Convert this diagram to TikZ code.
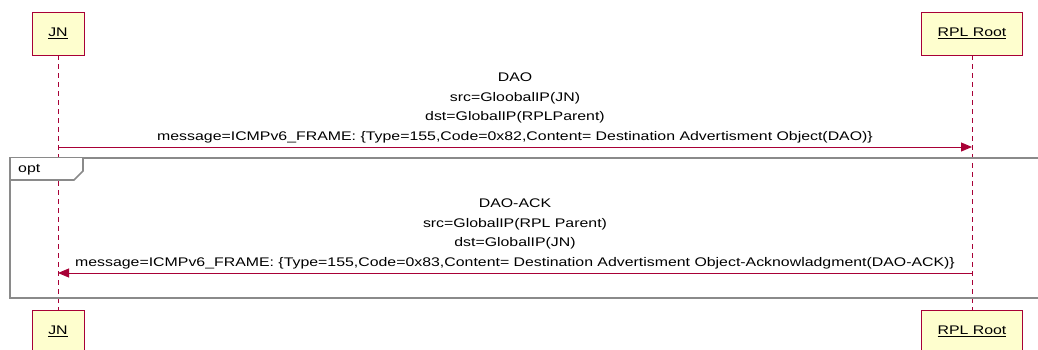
\documentclass[tikz,border=0pt]{standalone}
\usepackage{fontspec}
\setmainfont{Liberation Sans}[FakeStretch=1.27]
\usetikzlibrary{arrows.meta,positioning}
\definecolor{umlred}{HTML}{A80036}
\definecolor{umlfill}{HTML}{FEFECE}
\definecolor{framegray}{HTML}{8A8A8A}

\begin{document}
\begin{tikzpicture}[
  x=1pt, y=-1pt,
  actor/.style={draw=umlred, fill=umlfill, line width=0.9pt, minimum height=43pt, inner sep=0pt, font=\fontsize{12.5}{15}\selectfont},
  lifeline/.style={draw=umlred, line width=0.8pt, dash pattern=on 5pt off 4pt},
  msg/.style={draw=umlred, line width=0.9pt, -{Triangle[length=11pt,width=9pt]}},
  msgtext/.style={align=center, inner sep=0pt, font=\fontsize{12.5}{19.5}\selectfont},
  frame/.style={draw=framegray, line width=1.6pt}
]
\useasboundingbox (0,0) rectangle (1038,349);

% Participants, top and bottom
\node[actor, minimum width=52pt] (jn) at (58,33.5) {\underline{JN}};
\node[actor, minimum width=101pt] (root) at (972,33.5) {\underline{RPL Root}};
\node[actor, minimum width=52pt] (jnB) at (58,331.5) {\underline{JN}};
\node[actor, minimum width=101pt] (rootB) at (972,331.5) {\underline{RPL Root}};

% Lifelines
\draw[lifeline] (jn.south) -- (jnB.north);
\draw[lifeline] (root.south) -- (rootB.north);

% opt group
\draw[frame] (10,158) rectangle (1046,298);
\draw[frame, fill=white] (10,158) -- (10,180) -- (74,180) -- (83,171) -- (83,158);
\node[anchor=west, inner sep=0pt, font=\fontsize{12.5}{15}\selectfont] (opt) at (18,169.5) {opt};

% DAO
\coordinate (daoS) at (jn.south |- 0,147);
\coordinate (daoE) at (root.south |- 0,147);
\draw[msg] (daoS) -- (daoE);
\node[msgtext, anchor=south] (daoT) at (515,143) {DAO\\src=GloobalIP(JN)\\dst=GlobalIP(RPLParent)\\message=ICMPv6\_FRAME: \{Type=155,Code=0x82,Content= Destination Advertisment Object(DAO)\}};

% DAO-ACK
\coordinate (ackS) at (root.south |- 0,273);
\coordinate (ackE) at (jn.south |- 0,273);
\draw[msg] (ackS) -- (ackE);
\node[msgtext, anchor=south] (ackT) at (515,269) {DAO-ACK\\src=GlobalIP(RPL Parent)\\dst=GlobalIP(JN)\\message=ICMPv6\_FRAME: \{Type=155,Code=0x83,Content= Destination Advertisment Object-Acknowladgment(DAO-ACK)\}};
\end{tikzpicture}
\end{document}
